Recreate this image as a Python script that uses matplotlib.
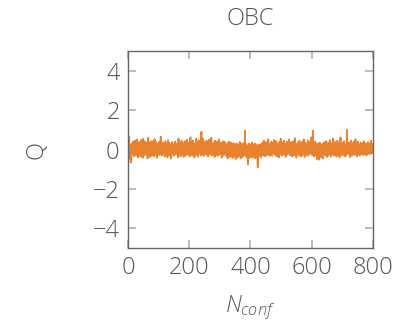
import numpy as np
import matplotlib
matplotlib.use("Agg")
import matplotlib.pyplot as plt

# topological charge per configuration (in units of 0.01)
q_rows = [
    [12,-20,35,-8,64,-30,5,-48,22,-66,10,-15,30,-5,18,-25,40,-12,2,-35,28,15,-22,45,-10,8,-30,20,-5,50,-18,12,-40,25,0,-15,38,-28,10,-8],
    [22,-35,15,48,-10,5,-25,30,-42,18,55,-5,10,-30,25,-15,40,-20,8,-12,35,-28,2,20,-45,12,60,-8,18,-22,30,-10,5,-38,42,-15,22,-5,10,-30],
    [15,28,-20,45,-8,12,-35,52,0,-25,20,-10,38,-18,5,-42,25,10,-15,30,-5,18,-28,40,-12,8,-20,65,-10,22,-30,15,-5,35,-25,10,-15,28,-8,20],
    [-35,12,42,-18,5,-28,30,-10,20,-40,15,48,-22,8,-15,35,-5,25,-30,10,-45,18,2,-20,38,-12,22,-8,15,-32,28,-5,12,-18,40,-25,8,-10,30,-15],
    [5,-22,25,-40,12,55,-8,18,-28,35,-12,2,-35,22,-5,45,-18,10,-25,30,-10,20,-38,15,-5,42,-20,8,-30,25,-12,18,-8,50,-15,5,-22,35,-28,12],
    [-10,28,-35,15,62,-5,20,-25,38,-12,8,-30,45,-18,25,-8,12,-40,30,-5,18,-22,55,-10,5,-28,40,-15,22,-35,10,48,-8,15,-20,35,-12,25,-30,70],
    [90,-15,30,-25,12,55,-8,20,-32,40,-10,5,-22,35,-18,15,-5,45,-28,10,-12,30,-35,22,-8,50,-20,12,-15,38,-25,8,60,-10,18,-30,28,-5,15,-22],
    [35,-12,20,-38,10,45,-8,25,-28,15,-5,40,-20,12,-32,30,-10,52,-15,5,-25,22,-8,35,-18,10,-40,28,-12,18,-5,42,-30,15,-22,8,38,-15,25,-10],
    [-20,12,-35,25,-8,30,-45,15,-12,40,-28,5,-18,22,-38,10,-5,35,-30,18,-15,28,-42,8,-22,15,-10,32,-35,5,-25,20,-48,12,-8,30,-28,15,-40,10],
    [-15,25,-32,8,-20,38,-12,18,-45,5,-25,30,-10,15,-38,22,-5,-28,12,-18,35,-30,95,-15,8,-22,28,-40,10,-12,20,-35,-75,15,-25,30,-8,12,-42,5],
    [-18,25,-30,10,-12,35,-40,15,-8,22,-35,5,-20,30,-45,12,-10,28,-25,8,-38,18,-15,-55,-90,10,-28,25,-12,5,-32,20,-8,15,-40,28,-18,10,-25,35],
    [-12,18,-30,8,45,-20,12,-8,30,-35,15,-5,38,-22,10,-15,25,-28,52,-10,20,-18,5,-32,28,-12,15,-25,40,-8,22,-30,10,-15,35,-5,18,-20,48,-12],
    [25,-28,10,-8,42,-18,15,-35,22,-5,30,-22,12,-40,38,-10,18,-25,8,55,-15,25,-30,12,-5,35,-20,15,-12,45,-28,8,-18,30,-8,22,-38,15,-10,40],
    [-25,12,-5,35,-20,18,50,-15,8,-30,25,-10,38,-22,12,-8,30,-35,15,-5,42,-18,22,-28,10,58,-12,20,-25,5,-40,28,-10,15,-20,35,-8,18,-30,12],
    [45,-15,25,-22,8,-35,30,-10,18,-28,40,-5,15,-20,52,-12,22,-38,10,-8,35,-25,12,-15,28,-5,20,-32,48,-18,10,-25,38,-8,15,-20,30,-12,62,-10],
    [22,-28,15,-5,95,-20,12,-35,28,-10,18,-25,40,-15,8,-30,25,-48,12,-18,30,-8,20,-52,15,-12,35,-28,5,-40,22,-10,18,-35,28,-15,8,-45,30,-5],
    [15,-25,38,-12,20,-30,10,-8,42,-22,15,-38,25,-5,18,-28,35,-15,10,-20,48,-12,22,-35,8,-5,30,-25,15,-10,55,-18,20,-30,12,-8,38,-22,15,-12],
    [25,-35,10,-5,45,-20,18,-28,30,-12,8,-40,22,-15,62,-8,15,-25,35,-18,10,-30,28,-5,20,-22,42,-12,15,-35,25,-8,18,-28,12,100,-15,30,-20,8],
    [-12,35,-25,15,-5,28,-38,20,-10,45,-18,12,-30,25,-8,15,-22,38,-15,8,-28,30,-12,52,-20,18,-5,25,-35,10,-15,40,-25,12,-8,28,-18,15,-30,20],
    [-10,35,-22,8,-15,30,-5,18,-28,12,42,-12,20,-25,10,-8,32,-18,15,-30,25,-5,12,-20,38,-10,22,-15,8,-25,30,-12,18,-5,45,-20,10,-8,28,-15],
]
q = np.array([v for row in q_rows for v in row]) / 100.0
n_conf = np.arange(len(q))

x_ticks = [0, 200, 400, 600, 800]
y_ticks = [-4, -2, 0, 2, 4]

txt = "#555555"
plt.rcParams['font.family'] = ['Open Sans', 'DejaVu Sans']
plt.rcParams['font.weight'] = 300
plt.rcParams['mathtext.fontset'] = 'custom'
plt.rcParams['mathtext.it'] = 'Open Sans:italic:light'
plt.rcParams['mathtext.rm'] = 'Open Sans:light'

fig = plt.figure(figsize=(3.98, 3.22), dpi=100)
ax = fig.add_axes([0.3216, 0.2298, 0.6154, 0.6118])
ax.plot(n_conf, q, color="#e8822e", lw=1.3)

ax.set_xlim(0, 800)
ax.set_ylim(-5, 5)
ax.set_xticks(x_ticks)
ax.set_yticks(y_ticks)
ax.set_yticklabels(["\u2212" + str(-t) if t < 0 else str(t) for t in y_ticks])
ax.tick_params(direction="in", length=6, width=1.2, color="#b0b0b0",
               top=True, right=True, labelsize=17, labelcolor=txt, pad=6)
for s in ax.spines.values():
    s.set_color("#666666")
    s.set_linewidth(1.0)

ax.set_title("OBC", fontsize=17, color=txt, pad=19, fontweight=300)
ax.set_xlabel(r"$N_{conf}$", fontsize=17, color=txt, labelpad=9)
ax.set_ylabel("Q", fontsize=17, color=txt, labelpad=32, fontweight=300)

fig.savefig("out.png", dpi=100)
